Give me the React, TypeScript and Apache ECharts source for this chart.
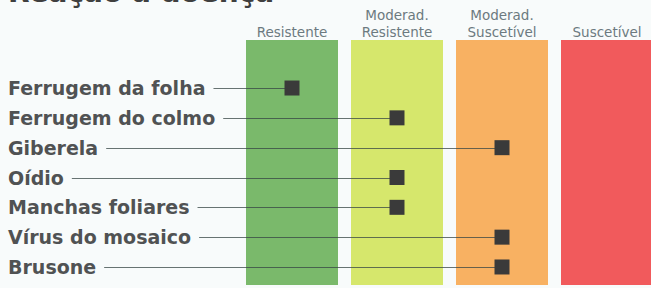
import React, { useEffect, useRef } from "react";
import * as echarts from "echarts";

const levels = ["Resistente", "Moderad.\nResistente", "Moderad.\nSuscetível", "Suscetível"];
const bandColors = ["#7ab96b", "#d6e76c", "#f8b162", "#f15a5c"];
const bandValues = [1, 1, 1, 1];
const diseases = [
  "Ferrugem da folha",
  "Ferrugem do colmo",
  "Giberela",
  "Oídio",
  "Manchas foliares",
  "Vírus do mosaico",
  "Brusone",
];
// index into levels for each disease
const reaction = [0, 1, 2, 1, 1, 2, 2];
const title = "Reação à doença";

const LABEL_FONT = "bold 19px 'DejaVu Sans'";

export default function App() {
  const ref = useRef<HTMLDivElement>(null);
  useEffect(() => {
    if (!ref.current) return;
    const chart = echarts.init(ref.current, null, { renderer: "svg" });
    const canvas = document.createElement("canvas");
    const ctx = canvas.getContext("2d")!;
    ctx.font = LABEL_FONT;
    const measure = (s: string) => ctx.measureText(s).width;

    const left = 239.5;
    const width = 420;

    chart.setOption({
      animation: false,
      backgroundColor: "#f8fbfb",
      graphic: [
        {
          type: "text",
          left: 8,
          top: -22,
          style: {
            text: title,
            font: "bold 28px 'DejaVu Sans'",
            fill: "#3f3f3f",
          },
        },
      ],
      grid: [
        { left, width, top: 40, height: 245, outerBoundsMode: "none", containLabel: false },
        { left, width, top: 73.1, height: 208.8, outerBoundsMode: "none", containLabel: false },
      ],
      xAxis: [
        {
          gridIndex: 0,
          type: "category",
          data: levels,
          position: "top",
          axisLine: { show: false },
          axisTick: { show: false },
          axisLabel: {
            fontFamily: "DejaVu Sans",
            fontSize: 13.5,
            lineHeight: 16.5,
            color: "#6c7a80",
            margin: 0,
            interval: 0,
          },
        },
        { gridIndex: 1, type: "category", data: levels, show: false },
      ],
      yAxis: [
        { gridIndex: 0, type: "value", min: 0, max: 1, show: false },
        {
          gridIndex: 1,
          type: "category",
          data: diseases,
          inverse: true,
          axisLine: { show: false },
          axisTick: { show: false },
          splitLine: { show: false },
          axisLabel: {
            align: "left",
            margin: left - 8,
            fontFamily: "DejaVu Sans",
            fontWeight: "bold",
            fontSize: 19,
            color: "#505253",
            interval: 0,
          },
        },
      ],
      series: [
        {
          type: "bar",
          xAxisIndex: 0,
          yAxisIndex: 0,
          barWidth: 92,
          silent: true,
          z: 1,
          data: bandValues.map((v, i) => ({ value: v, itemStyle: { color: bandColors[i] } })),
        },
        {
          type: "custom",
          xAxisIndex: 1,
          yAxisIndex: 1,
          clip: false,
          silent: true,
          z: 10,
          data: reaction.map((lv, i) => [lv, i]),
          encode: { x: 0, y: 1 },
          renderItem: (params: any, api: any) => {
            const row = api.value(1);
            const p = api.coord([api.value(0), row]);
            const y = Math.round(p[1]) + 0.5;
            const x0 = 8 + measure(diseases[row]) + 8;
            return {
              type: "group",
              children: [
                {
                  type: "line",
                  shape: { x1: x0, y1: y, x2: p[0], y2: y },
                  style: { stroke: "rgba(55,70,68,0.75)", lineWidth: 1 },
                },
                {
                  type: "rect",
                  shape: { x: p[0] - 7.5, y: p[1] - 7.5, width: 15, height: 15 },
                  style: { fill: "#3a3a3a" },
                },
              ],
            };
          },
        },
      ],
    });
    return () => chart.dispose();
  }, []);
  return (
    <div
      ref={ref}
      style={{ position: "fixed", left: 0, top: 0, width: 651, height: 288 }}
    />
  );
}
